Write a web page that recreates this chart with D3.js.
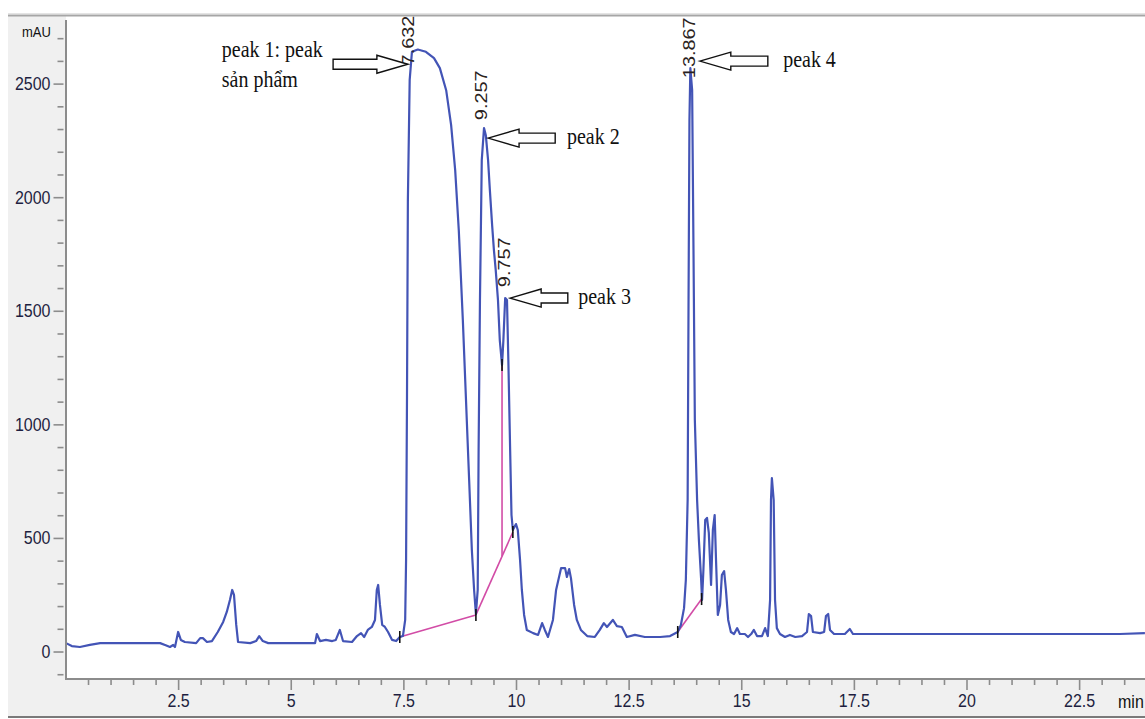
<!DOCTYPE html>
<html>
<head>
<meta charset="utf-8">
<script src="https://cdn.jsdelivr.net/npm/d3@7"></script>
<style>
  body { margin: 0; background: #fff; }
  svg { display: block; }
</style>
</head>
<body>
<div id="chart"></div>
<script>
  // retention time (min) of each trace point
  var times = [0.01,0.14,0.32,0.54,0.77,1.43,2.10,2.21,2.32,2.39,
    2.43,2.50,2.56,2.65,2.90,2.99,3.05,3.14,3.25,3.38,
    3.50,3.58,3.65,3.70,3.74,3.79,3.83,4.10,4.23,4.30,
    4.38,4.50,5.21,5.54,5.58,5.65,5.78,5.92,6.00,6.09,
    6.16,6.36,6.47,6.56,6.63,6.71,6.80,6.87,6.91,6.94,
    6.98,7.03,7.09,7.16,7.25,7.34,7.42,7.49,7.54,7.56,
    7.58,7.60,7.64,7.69,7.82,8.00,8.18,8.31,8.45,8.56,
    8.65,8.73,8.82,8.89,8.96,9.02,9.07,9.11,9.15,9.17,
    9.20,9.24,9.29,9.33,9.38,9.42,9.47,9.51,9.55,9.60,
    9.64,9.69,9.72,9.76,9.80,9.83,9.87,9.90,9.93,10.00,
    10.04,10.09,10.13,10.18,10.24,10.38,10.49,10.58,10.64,10.71,
    10.82,10.89,10.93,11.00,11.09,11.13,11.18,11.22,11.29,11.35,
    11.44,11.58,11.75,11.86,11.95,12.02,12.15,12.24,12.35,12.46,
    12.64,12.86,13.20,13.42,13.59,13.66,13.73,13.77,13.81,13.83,
    13.85,13.87,13.91,13.94,13.97,14.02,14.06,14.11,14.13,14.16,
    14.20,14.24,14.28,14.33,14.37,14.41,14.44,14.48,14.53,14.57,
    14.62,14.66,14.71,14.77,14.84,14.91,14.97,15.08,15.15,15.22,
    15.28,15.35,15.46,15.53,15.59,15.64,15.66,15.68,15.72,15.75,
    15.79,15.86,15.97,16.08,16.20,16.35,16.46,16.50,16.55,16.59,
    16.75,16.84,16.88,16.93,16.97,17.06,17.30,17.41,17.48,17.86,
    20.74,23.40,23.96];

  // absorbance (mAU) at those times
  var mau = [37,24,20,29,37,37,37,29,20,29,
    20,86,51,42,37,59,59,42,46,86,
    130,174,227,271,249,117,42,37,46,68,
    46,37,37,37,77,46,51,46,51,95,
    46,42,68,81,64,95,108,139,271,293,
    205,117,108,86,51,46,64,68,139,403,
    1107,1987,2516,2640,2650,2640,2612,2568,2471,2317,
    2119,1855,1459,1107,755,447,271,165,271,887,
    1547,2163,2304,2273,2163,2031,1877,1767,1679,1547,
    1371,1261,1371,1556,1547,1283,887,601,535,561,
    535,403,271,161,95,81,73,125,95,64,
    139,271,306,367,367,328,363,323,205,139,
    95,68,64,95,125,108,139,112,108,64,
    73,64,64,68,86,117,191,315,667,1547,
    2339,2568,2471,1767,1019,667,491,315,227,359,
    579,588,522,293,535,601,403,161,205,337,
    354,271,139,86,77,103,77,77,64,77,
    95,68,68,103,68,227,667,763,667,227,
    103,77,64,73,64,68,86,165,156,86,
    81,86,156,165,95,77,77,99,77,77,
    77,77,81];

  // integration baselines (start / end)
  var baseT0 = [7.42, 9.11, 13.59];
  var baseV0 = [64, 161, 86];
  var baseT1 = [9.11, 9.93, 14.12];
  var baseV1 = [161, 526, 231];

  // drop line between peak 2 and peak 3
  var dropT = [9.69];
  var dropTop = [1261];

  // peak start/end markers
  var markT = [7.42, 9.11, 9.69, 9.93, 13.59, 14.12];
  var markV = [64, 161, 1261, 526, 86, 231];

  // retention time labels
  var rtTimes = [7.632, 9.257, 9.757, 13.867];
  var rtLabelV = [2580, 2339, 1604, 2524];

  // arrow annotations
  var noteLines = [["peak 1: peak", "sản phẩm"], ["peak 2"], ["peak 3"], ["peak 4"]];
  var noteTipT = [7.60, 9.38, 9.87, 14.08];
  var noteTipV = [2585, 2260, 1556, 2599];
  var noteTailT = [5.94, 10.87, 11.15, 15.59];
  var noteTextT = [3.47, 11.13, 11.38, 15.93];

  var yTicks = [0, 500, 1000, 1500, 2000, 2500];
  var xTicks = [2.5, 5, 7.5, 10, 12.5, 15, 17.5, 20, 22.5];

  var width = 1145, height = 719;
  var stretch = 1.17; // text in the picture is drawn a little tall

  var svg = d3.select("#chart").append("svg")
    .attr("width", width)
    .attr("height", height);

  var x = d3.scaleLinear().domain([0, 24]).range([65.5, 1146.7]);
  var y = d3.scaleLinear().domain([-121, 2780]).range([679, 20]);

  // grey frame panels
  svg.append("rect").attr("x", 8).attr("y", 16).attr("width", 58).attr("height", 701).attr("fill", "#f0f0f0");
  svg.append("rect").attr("x", 8).attr("y", 680).attr("width", width - 8).attr("height", 37).attr("fill", "#f0f0f0");
  svg.append("line").attr("x1", 8).attr("x2", width).attr("y1", 13.5).attr("y2", 13.5)
    .attr("stroke", "#e4e4e4").attr("stroke-width", 1);
  svg.append("line").attr("x1", 8).attr("x2", width).attr("y1", 15.5).attr("y2", 15.5)
    .attr("stroke", "#a6a6a6").attr("stroke-width", 2);
  svg.append("line").attr("x1", 8).attr("x2", width).attr("y1", 717).attr("y2", 717)
    .attr("stroke", "#7a7a7a").attr("stroke-width", 2);

  var axisColor = "#8c8c8c";
  var labelColor = "#1e1e40";
  var sans = "'Liberation Sans', Arial, sans-serif";
  var serif = "'Liberation Serif', 'Times New Roman', serif";

  // y axis: major and minor ticks
  var yMinor = d3.range(-100, 2800, 100).filter(function(v) { return v % 500 !== 0; });
  var yMinorAxis = svg.append("g").attr("transform", "translate(63.5,0)")
    .call(d3.axisLeft(y).tickValues(yMinor).tickSize(6).tickFormat(""));
  var yAxis = svg.append("g").attr("transform", "translate(63.5,0)")
    .call(d3.axisLeft(y).tickValues(yTicks).tickSize(10).tickPadding(3).tickFormat(d3.format("d")));
  [yMinorAxis, yAxis].forEach(function(g) {
    g.select(".domain").remove();
    g.selectAll("line").attr("stroke", axisColor).attr("stroke-width", 1.6);
  });
  yAxis.selectAll("text")
    .attr("fill", labelColor)
    .attr("font-family", sans)
    .attr("font-size", 16)
    .attr("transform", "scale(1," + stretch + ")");

  // x axis: major and minor ticks
  var xMinor = d3.range(0.5, 24, 0.5).filter(function(v) { return v % 2.5 !== 0; });
  var xMinorAxis = svg.append("g").attr("transform", "translate(0,679)")
    .call(d3.axisBottom(x).tickValues(xMinor).tickSize(6).tickFormat(""));
  var xAxis = svg.append("g").attr("transform", "translate(0,679)")
    .call(d3.axisBottom(x).tickValues(xTicks).tickSize(11).tickPadding(1.5)
      .tickFormat(function(d) { return d % 1 ? d.toFixed(1) : d; }));
  [xMinorAxis, xAxis].forEach(function(g) {
    g.select(".domain").remove();
    g.selectAll("line").attr("stroke", axisColor).attr("stroke-width", 1.6);
  });
  xAxis.selectAll("text")
    .attr("fill", labelColor)
    .attr("font-family", sans)
    .attr("font-size", 16)
    .attr("transform", "scale(1," + stretch + ")");

  // axis lines
  svg.append("line").attr("x1", 66).attr("x2", 66).attr("y1", 20).attr("y2", 680)
    .attr("stroke", axisColor).attr("stroke-width", 2);
  svg.append("line").attr("x1", 65).attr("x2", width).attr("y1", 679).attr("y2", 679)
    .attr("stroke", axisColor).attr("stroke-width", 2);

  // axis units
  svg.append("text").text("mAU")
    .attr("transform", "translate(22,37) scale(1," + stretch + ")")
    .attr("font-family", sans).attr("font-size", 13).attr("fill", "#111");
  svg.append("text").text("min")
    .attr("transform", "translate(1118,708) scale(1," + stretch + ")")
    .attr("font-family", sans).attr("font-size", 16).attr("fill", "#111");

  svg.append("clipPath").attr("id", "plot-clip")
    .append("rect").attr("x", 67).attr("y", 17).attr("width", width - 67).attr("height", 661);

  var plot = svg.append("g").attr("clip-path", "url(#plot-clip)");

  // baselines
  plot.selectAll(".base")
    .data(baseT0)
    .enter()
    .append("line")
    .attr("class", "base")
    .attr("x1", function(d) { return x(d); })
    .attr("y1", function(d, i) { return y(baseV0[i]); })
    .attr("x2", function(d, i) { return x(baseT1[i]); })
    .attr("y2", function(d, i) { return y(baseV1[i]); })
    .attr("stroke", "#d24ca6")
    .attr("stroke-width", 1.6);

  // drop line goes down to the baseline under it
  plot.selectAll(".drop")
    .data(dropT)
    .enter()
    .append("line")
    .attr("class", "drop")
    .attr("x1", function(d) { return x(d); })
    .attr("x2", function(d) { return x(d); })
    .attr("y1", function(d, i) { return y(dropTop[i]); })
    .attr("y2", function(d) {
      var f = (d - baseT0[1]) / (baseT1[1] - baseT0[1]);
      return y(baseV0[1] + f * (baseV1[1] - baseV0[1]));
    })
    .attr("stroke", "#d24ca6")
    .attr("stroke-width", 1.6);

  // chromatogram trace
  var line = d3.line()
    .x(function(d) { return x(d); })
    .y(function(d, i) { return y(mau[i]); });

  plot.append("path")
    .datum(times)
    .attr("d", line)
    .attr("fill", "none")
    .attr("stroke", "#4354b6")
    .attr("stroke-width", 2.2)
    .attr("stroke-linejoin", "round");

  // black start/end ticks
  plot.selectAll(".mark")
    .data(markT)
    .enter()
    .append("line")
    .attr("class", "mark")
    .attr("x1", function(d) { return x(d); })
    .attr("x2", function(d) { return x(d); })
    .attr("y1", function(d, i) { return y(markV[i]) - 6; })
    .attr("y2", function(d, i) { return y(markV[i]) + 6; })
    .attr("stroke", "#111")
    .attr("stroke-width", 1.6);

  // rotated retention times
  svg.selectAll(".rt")
    .data(rtTimes)
    .enter()
    .append("text")
    .attr("class", "rt")
    .attr("transform", function(d, i) {
      return "translate(" + (x(d) - 1.5) + "," + y(rtLabelV[i]) + ") scale(1," + stretch + ") rotate(-90)";
    })
    .attr("dy", "0.36em")
    .attr("font-family", sans)
    .attr("font-size", 17)
    .attr("fill", "#2a2220")
    .text(function(d) { return d.toFixed(3); });

  // hollow block arrows pointing at the peaks
  var headLen = 31, headHalf = 9, shaftHalf = 5;
  noteTipT.forEach(function(t, i) {
    var tx = x(t), ty = y(noteTipV[i]);
    var tail = x(noteTailT[i]);
    var dir = tail > tx ? 1 : -1;
    var hx = tx + dir * headLen;
    var pts = [[tx, ty], [hx, ty - headHalf], [hx, ty - shaftHalf], [tail, ty - shaftHalf],
      [tail, ty + shaftHalf], [hx, ty + shaftHalf], [hx, ty + headHalf]];
    svg.append("polygon")
      .attr("points", pts.map(function(p) { return p.join(","); }).join(" "))
      .attr("fill", "#fff")
      .attr("stroke", "#111")
      .attr("stroke-width", 1.4);

    var lines = noteLines[i];
    var first = lines.length > 1 ? ty - 7 : ty + 6;
    lines.forEach(function(s, k) {
      svg.append("text")
        .attr("transform", "translate(" + x(noteTextT[i]) + "," + (first + k * 30) + ") scale(1," + stretch + ")")
        .attr("font-family", serif)
        .attr("font-size", 20)
        .attr("fill", "#111")
        .text(s);
    });
  });
</script>
</body>
</html>
